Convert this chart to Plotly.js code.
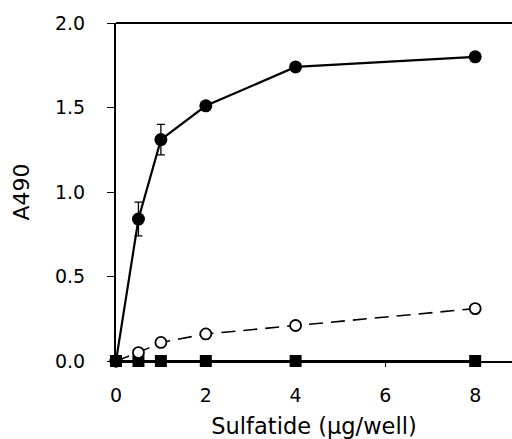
<!DOCTYPE html>
<html><head><meta charset="utf-8">
<script src="https://cdn.plot.ly/plotly-3.0.1.min.js"></script>
<style>body{margin:0;background:#fff}#c{width:512px;height:439px}</style>
</head><body><div id="c"></div>
<script>
const dose = [0, 0.5, 1, 2, 4, 8];
const filledCircle = [0, 0.84, 1.31, 1.51, 1.74, 1.80];
const filledErr = [0, 0.10, 0.09, 0, 0, 0];
const openCircle = [0, 0.05, 0.11, 0.16, 0.21, 0.31];
const filledSquare = [0, 0, 0, 0, 0, 0];
const xTicks = [0, 2, 4, 6, 8];
const yTicks = [0, 0.5, 1.0, 1.5, 2.0];

const traces = [
  {x: dose, y: filledSquare, mode: 'lines+markers', cliponaxis: false,
   line: {color: '#000', width: 2},
   marker: {symbol: 'square', size: 12, color: '#000'}},
  {x: dose, y: openCircle, mode: 'lines+markers', cliponaxis: false,
   line: {color: '#000', width: 1.6, dash: '14px,8px'},
   marker: {symbol: 'circle', size: 11, color: '#fff', line: {color: '#000', width: 1.8}}},
  {x: dose, y: filledCircle, mode: 'lines+markers', cliponaxis: false,
   error_y: {type: 'data', array: filledErr, visible: true, color: '#000', thickness: 1.3, width: 4},
   line: {color: '#000', width: 2.2},
   marker: {symbol: 'circle', size: 13, color: '#000'}}
];

const layout = {
  width: 512, height: 439,
  margin: {l: 116, r: 0, t: 23, b: 78},
  paper_bgcolor: '#fff', plot_bgcolor: '#fff',
  showlegend: false,
  font: {family: 'DejaVu Sans, sans-serif', color: '#000', size: 19},
  xaxis: {range: [0, 8.82], tickvals: xTicks, ticktext: xTicks.map(String),
    showgrid: false, zeroline: false, showline: true, linecolor: '#000', linewidth: 1.5,
    ticks: 'outside', ticklen: 4, tickcolor: '#000', tickwidth: 1,
    ticklabelstandoff: 13, automargin: false,
    title: {text: 'Sulfatide (\u03bcg/well)', font: {size: 22.5}, standoff: 14}},
  yaxis: {range: [0, 2.0], tickvals: yTicks, tickformat: '.1f',
    showgrid: false, zeroline: false, showline: true, linecolor: '#000', linewidth: 2,
    ticks: 'outside', ticklen: 7, tickcolor: '#000', tickwidth: 1,
    ticklabelstandoff: 18, automargin: false,
    title: {text: 'A490', font: {size: 22}, standoff: 19}},
  shapes: [{type: 'line', xref: 'paper', yref: 'paper', x0: 0, x1: 1, y0: 1, y1: 1,
    line: {color: '#000', width: 2}}]
};
Plotly.newPlot('c', traces, layout, {displayModeBar: false, staticPlot: true});
</script></body></html>
